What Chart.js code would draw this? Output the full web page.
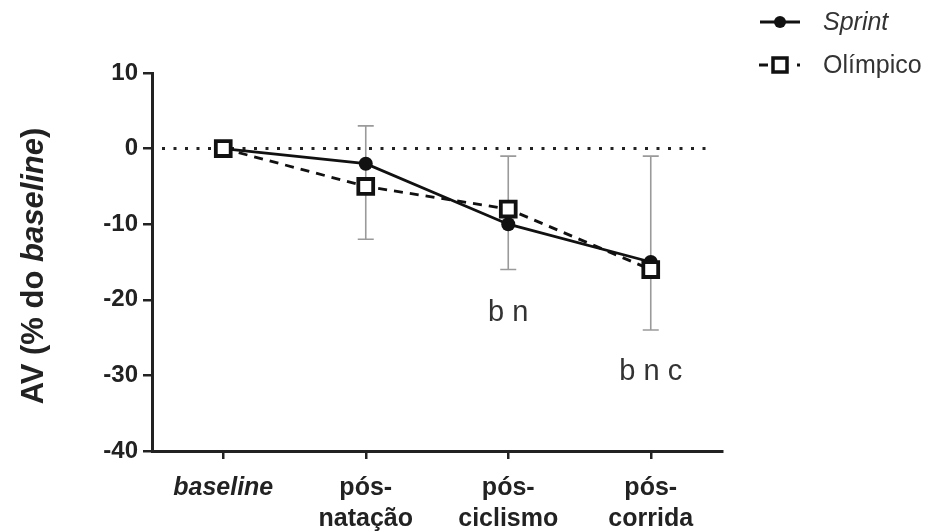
<!DOCTYPE html>
<html>
<head>
<meta charset="utf-8">
<script src="https://cdn.jsdelivr.net/npm/chart.js@4.4.1/dist/chart.umd.min.js"></script>
<style>
    html, body { margin: 0; padding: 0; background: #fff; }
    #wrap { width: 934px; height: 532px; position: relative; }
</style>
</head>
<body>
<div id="wrap"><canvas id="avChart" width="934" height="532"></canvas></div>
<script>
// Data
const categories = [['baseline'], ['pós-', 'natação'], ['pós-', 'ciclismo'], ['pós-', 'corrida']];
const sprintValues = [0, -2, -10, -15];
const olimpicoValues = [0, -5, -8, -16];
const errTop = [null, 3, -1, -1];
const errBottom = [null, -12, -16, -24];
const sigLabels = ['', '', 'b n', 'b n c'];
const sigLabelY = [null, null, -21.8, -29.5];
const yTicks = [10, 0, -10, -20, -30, -40];

const FONT = '"Liberation Sans", Arial, sans-serif';

// error bars, zero line, significance letters
const extrasPlugin = {
    id: 'extras',
    beforeDatasetsDraw(chart) {
        const ctx = chart.ctx;
        const x = chart.scales.x, y = chart.scales.y;
        const area = chart.chartArea;
        ctx.save();
        // dotted zero line
        ctx.strokeStyle = '#222';
        ctx.lineWidth = 3;
        ctx.lineCap = 'butt';
        ctx.setLineDash([3, 8.5]);
        const y0 = y.getPixelForValue(0);
        ctx.beginPath();
        ctx.moveTo(area.left + 10, y0);
        ctx.lineTo(area.right - 10, y0);
        ctx.stroke();
        ctx.setLineDash([]);
        // error bars
        ctx.strokeStyle = '#9a9a9a';
        ctx.lineWidth = 1.6;
        for (let i = 0; i < categories.length; i++) {
            if (errTop[i] === null) continue;
            const px = x.getPixelForValue(i);
            const t = y.getPixelForValue(errTop[i]);
            const b = y.getPixelForValue(errBottom[i]);
            ctx.beginPath();
            ctx.moveTo(px, t); ctx.lineTo(px, b);
            ctx.moveTo(px - 8, t); ctx.lineTo(px + 8, t);
            ctx.moveTo(px - 8, b); ctx.lineTo(px + 8, b);
            ctx.stroke();
        }
        ctx.restore();
    },
    afterDraw(chart) {
        const ctx = chart.ctx;
        const x = chart.scales.x, y = chart.scales.y;
        ctx.save();
        ctx.fillStyle = '#333';
        ctx.font = '29px ' + FONT;
        ctx.textAlign = 'center';
        ctx.textBaseline = 'middle';
        sigLabels.forEach((s, i) => {
            if (!s) return;
            ctx.fillText(s, x.getPixelForValue(i), y.getPixelForValue(sigLabelY[i]));
        });

        // y axis title with italic "baseline"
        ctx.translate(34, 266);
        ctx.rotate(-Math.PI / 2);
        ctx.fillStyle = '#222';
        ctx.textBaseline = 'middle';
        const parts = [['AV (% do ', 'bold '], ['baseline', 'italic bold '], [')', 'bold ']];
        let total = 0;
        parts.forEach(p => { ctx.font = p[1] + '31px ' + FONT; total += ctx.measureText(p[0]).width; });
        let cx = -total / 2;
        ctx.textAlign = 'left';
        parts.forEach(p => {
            ctx.font = p[1] + '31px ' + FONT;
            ctx.fillText(p[0], cx, 0);
            cx += ctx.measureText(p[0]).width;
        });
        ctx.restore();

        // legend
        ctx.save();
        ctx.strokeStyle = '#111';
        ctx.lineWidth = 3;
        ctx.beginPath(); ctx.moveTo(760, 22); ctx.lineTo(800, 22); ctx.stroke();
        ctx.fillStyle = '#111';
        ctx.beginPath(); ctx.arc(780, 22, 6, 0, Math.PI * 2); ctx.fill();
        ctx.beginPath(); ctx.moveTo(759, 65); ctx.lineTo(768, 65); ctx.stroke();
        ctx.fillRect(797, 63.5, 3, 3);
        ctx.lineWidth = 3.5;
        ctx.fillStyle = '#fff';
        ctx.fillRect(773, 58, 14, 14);
        ctx.strokeRect(773, 58, 14, 14);
        ctx.fillStyle = '#333';
        ctx.textAlign = 'left';
        ctx.textBaseline = 'middle';
        ctx.font = 'italic 25px ' + FONT;
        ctx.fillText('Sprint', 823, 23);
        ctx.font = '25px ' + FONT;
        ctx.fillText('Olímpico', 823, 66);
        ctx.restore();
    }
};

new Chart(document.getElementById('avChart'), {
    type: 'line',
    data: {
        labels: categories,
        datasets: [{
            label: 'Sprint',
            data: sprintValues,
            borderColor: '#111',
            borderWidth: 2.8,
            pointStyle: 'circle',
            pointRadius: 7,
            pointBackgroundColor: '#111',
            pointBorderColor: '#111',
            pointBorderWidth: 0,
            tension: 0,
            order: 1
        }, {
            label: 'Olímpico',
            data: olimpicoValues,
            borderColor: '#111',
            borderWidth: 2.8,
            borderDash: [9, 7],
            pointStyle: 'rect',
            pointRadius: 10.5,
            pointBackgroundColor: '#fff',
            pointBorderColor: '#111',
            pointBorderWidth: 3.8,
            tension: 0,
            order: 0
        }]
    },
    options: {
        responsive: false,
        animation: false,
        layout: { padding: { left: 0, top: 73, right: 212, bottom: 0 } },
        plugins: {
            legend: { display: false },
            tooltip: { enabled: false }
        },
        scales: {
            x: {
                offset: true,
                border: { display: true, color: '#222', width: 3 },
                grid: { display: true, drawOnChartArea: false, drawTicks: true, tickLength: 8, color: '#222', lineWidth: 2.5, offset: false },
                ticks: {
                    color: '#222',
                    padding: 13,
                    maxRotation: 0,
                    font: c => ({ family: FONT, size: 25, weight: 'bold', style: c.index === 0 ? 'italic' : 'normal', lineHeight: 1.26 })
                },
                afterFit: s => { s.height = 81; }
            },
            y: {
                min: -40,
                max: 10,
                afterBuildTicks: s => { s.ticks = yTicks.map(v => ({ value: v })); },
                border: { display: true, color: '#222', width: 3 },
                grid: { display: true, drawOnChartArea: false, drawTicks: true, tickLength: 9, color: '#222', lineWidth: 2.5 },
                ticks: {
                    color: '#222',
                    padding: 5,
                    font: { family: FONT, size: 24, weight: 'bold' }
                },
                afterFit: s => { s.width = 152; }
            }
        }
    },
    plugins: [extrasPlugin]
});
</script>
</body>
</html>
